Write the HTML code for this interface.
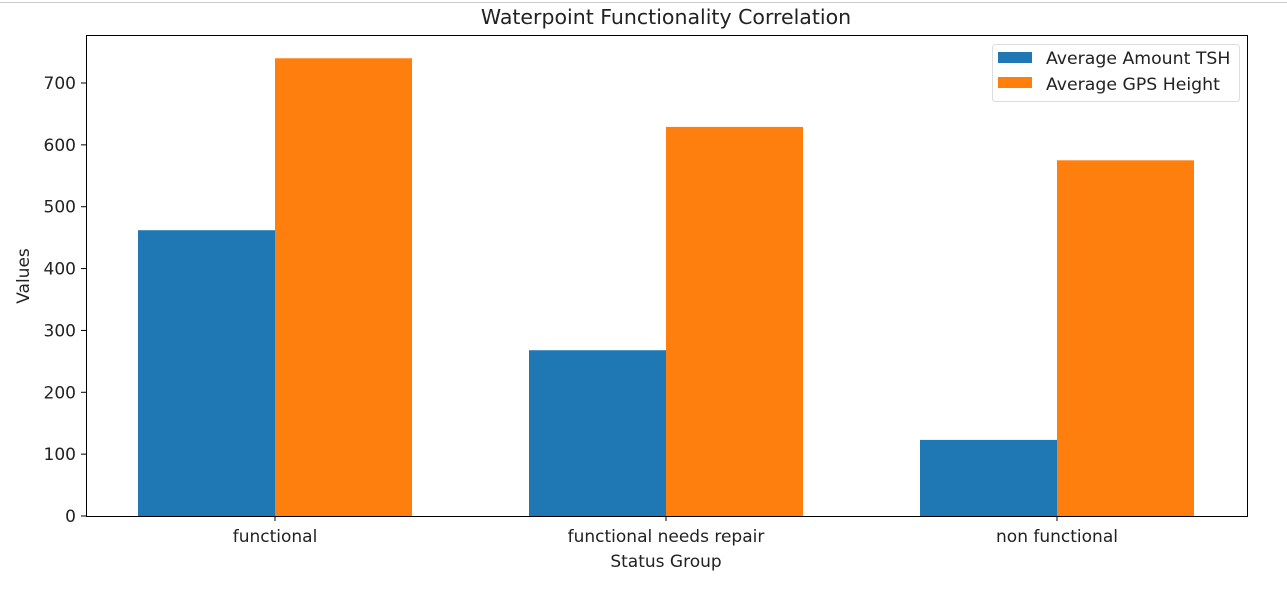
<!DOCTYPE html>
<html><head><meta charset="utf-8"><style>
body{margin:0;background:#fff;width:1287px;height:592px;overflow:hidden}
text{font-family:"DejaVu Sans","Liberation Sans",sans-serif;fill:#222}
</style></head><body>
<svg id="c" width="1287" height="592">
<line x1="0" y1="2.5" x2="1287" y2="2.5" stroke="#ccc"/>
<text x="666" y="24" font-size="20.5" text-anchor="middle">Waterpoint Functionality Correlation</text>
<g id="plot"></g>
<text x="666" y="567" font-size="17" text-anchor="middle">Status Group</text>
<text transform="translate(29,276) rotate(-90)" font-size="17" text-anchor="middle">Values</text>
<g>
<rect x="992.5" y="44.5" width="247" height="57" rx="3" fill="#fff" stroke="#ddd"/>
<rect x="998" y="52" width="34" height="11" fill="#1f77b4"/>
<text x="1046" y="64" font-size="17.3">Average Amount TSH</text>
<rect x="998" y="77" width="34" height="11" fill="#ff7f0e"/>
<text x="1046" y="90" font-size="17.3">Average GPS Height</text>
</g>
</svg>
<script>
const categories=["functional","functional needs repair","non functional"];
const tshValues=[462,268,123];
const gpsValues=[740,629,575];
const yTicks=[0,100,200,300,400,500,600,700];
const L=86,R=1248,T=35,B=516;
const xs=i=>275+i*391;
const ys=v=>B-v*(433/700);
const bw=137;
const NS="http://www.w3.org/2000/svg";
const g=document.getElementById('plot');
function mk(t,a){const e=document.createElementNS(NS,t);for(const k in a)e.setAttribute(k,a[k]);g.appendChild(e);return e;}
categories.forEach((c,i)=>{
  let b=mk('rect',{x:xs(i)-bw,y:ys(tshValues[i]),width:bw,height:B-ys(tshValues[i]),fill:'#1f77b4'});
  
  
  let o=mk('rect',{x:xs(i),y:ys(gpsValues[i]),width:bw,height:B-ys(gpsValues[i]),fill:'#ff7f0e'});
  
  
  mk('line',{x1:xs(i),x2:xs(i),y1:B,y2:B+5,stroke:'#000'});
  let t=mk('text',{x:xs(i),y:B+26,'font-size':17,'text-anchor':'middle'});
  t.textContent=c;
  
  
});
yTicks.forEach(v=>{
  mk('line',{x1:L-5,x2:L,y1:ys(v),y2:ys(v),stroke:'#000'});
  let t=mk('text',{x:L-10,y:ys(v)+6,'font-size':17,'text-anchor':'end'});
  t.textContent=v;
  
  
});
let f=mk('rect',{x:L+.5,y:T+.5,width:R-L-1,height:B-T,fill:'none',stroke:'#000'});


</script>
</body></html>
